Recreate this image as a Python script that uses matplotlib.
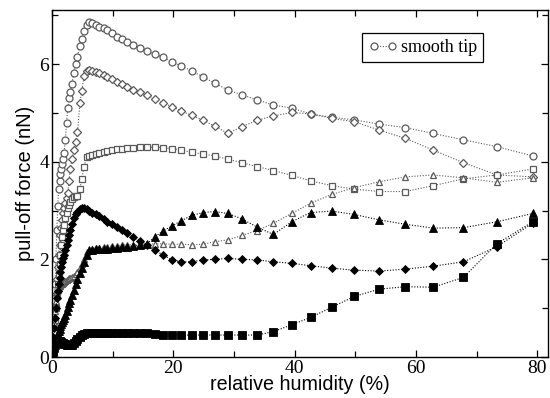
import matplotlib
matplotlib.use("Agg")
import matplotlib.pyplot as plt
from matplotlib.ticker import MultipleLocator

# relative humidity (%) - shared sampling for every curve
rh = [0.0, 0.2, 0.35, 0.5, 0.65, 0.8, 0.95, 1.1, 1.25, 1.4, 1.55, 1.7, 1.85,
      2.0, 2.2, 2.4, 2.6, 2.8, 3.0, 3.3, 3.6, 3.9, 4.2, 4.6, 4.9, 5.3, 5.7,
      6.1, 6.6, 7.2, 7.8, 8.5, 9.1, 9.9, 10.7, 11.5, 12.4, 13.4, 14.5, 15.7,
      16.9, 18.3, 19.7, 21.3, 23.0, 24.9, 26.8, 29.0, 31.3, 33.8, 36.5, 39.5,
      42.6, 46.1, 49.8, 53.9, 58.2, 62.8, 67.8, 73.3, 79.2]

# pull-off force (nN)
smooth_tip = [0.0, 0.6, 1.0, 1.5, 2.0, 2.6, 3.1, 3.45, 3.6, 3.75, 3.86, 3.96, 4.06,
              4.18, 4.45, 4.8, 5.1, 5.3, 5.42, 5.6, 5.82, 6.0, 6.15, 6.38, 6.52, 6.68, 6.8,
              6.86, 6.84, 6.81, 6.77, 6.73, 6.69, 6.63, 6.56, 6.51, 6.46, 6.4, 6.34, 6.27,
              6.21, 6.14, 6.05, 5.96, 5.86, 5.74, 5.61, 5.47, 5.37, 5.27, 5.16, 5.1,
              4.98, 4.91, 4.86, 4.77, 4.7, 4.58, 4.45, 4.31, 4.12]

open_diamond = [0.0, 0.4, 0.7, 1.0, 1.3, 1.6, 1.85, 2.1, 2.3, 2.5, 2.65, 2.8, 2.95,
                3.05, 3.15, 3.25, 3.35, 3.6, 3.85, 4.05, 4.25, 4.4, 4.6, 5.2, 5.45, 5.75, 5.86,
                5.87, 5.86, 5.84, 5.81, 5.77, 5.73, 5.69, 5.64, 5.59, 5.54, 5.48, 5.42, 5.36,
                5.29, 5.21, 5.13, 5.04, 4.95, 4.85, 4.73, 4.58, 4.72, 4.85, 4.94, 5.01,
                4.98, 4.89, 4.82, 4.65, 4.48, 4.24, 3.98, 3.73, 3.69]

open_square = [0.0, 0.3, 0.5, 0.75, 1.0, 1.25, 1.5, 1.7, 1.9, 2.1, 2.3, 2.45, 2.6,
               2.7, 2.85, 2.95, 3.05, 3.12, 3.18, 3.24, 3.28, 3.3, 3.3, 3.45, 3.65, 3.9, 4.1,
               4.12, 4.14, 4.16, 4.18, 4.2, 4.22, 4.24, 4.26, 4.27, 4.28, 4.29, 4.3, 4.3,
               4.3, 4.29, 4.27, 4.24, 4.19, 4.16, 4.12, 4.05, 3.98, 3.9, 3.82, 3.72,
               3.61, 3.51, 3.44, 3.39, 3.39, 3.51, 3.65, 3.73, 3.85]

open_triangle = [0.0, 0.4, 0.7, 0.95, 1.15, 1.3, 1.38, 1.42, 1.45, 1.47, 1.49, 1.5, 1.52,
                 1.53, 1.55, 1.57, 1.59, 1.61, 1.62, 1.64, 1.66, 1.7, 1.75, 1.82, 1.9, 2.0, 2.15,
                 2.2, 2.22, 2.23, 2.24, 2.25, 2.26, 2.27, 2.28, 2.29, 2.3, 2.3, 2.31, 2.31,
                 2.32, 2.32, 2.31, 2.31, 2.3, 2.31, 2.36, 2.4, 2.49, 2.59, 2.74, 2.94,
                 3.15, 3.33, 3.47, 3.59, 3.69, 3.73, 3.67, 3.58, 3.67]

filled_triangle = [0.0, 0.1, 0.18, 0.25, 0.32, 0.4, 0.47, 0.53, 0.58, 0.63, 0.68, 0.72, 0.76,
                   0.8, 0.87, 0.95, 1.02, 1.1, 1.17, 1.27, 1.38, 1.5, 1.6, 1.72, 1.82, 1.95, 2.1,
                   2.2, 2.2, 2.21, 2.21, 2.22, 2.22, 2.23, 2.24, 2.25, 2.26, 2.27, 2.29, 2.32,
                   2.46, 2.58, 2.68, 2.79, 2.9, 2.96, 2.98, 2.94, 2.83, 2.66, 2.51, 2.77,
                   2.96, 2.99, 2.92, 2.81, 2.72, 2.64, 2.65, 2.77, 2.94]

filled_diamond = [0.0, 0.4, 0.6, 0.8, 1.0, 1.2, 1.35, 1.5, 1.62, 1.75, 1.85, 1.95, 2.02,
                  2.08, 2.2, 2.3, 2.4, 2.5, 2.6, 2.72, 2.84, 2.92, 2.98, 3.03, 3.05, 3.05, 3.04,
                  3.0, 2.96, 2.92, 2.88, 2.82, 2.77, 2.72, 2.66, 2.6, 2.54, 2.46, 2.38, 2.3,
                  2.19, 2.09, 1.99, 1.95, 1.95, 1.99, 2.0, 2.02, 2.0, 1.99, 1.95, 1.92,
                  1.87, 1.82, 1.78, 1.76, 1.8, 1.86, 1.95, 2.26, 2.74]

filled_square = [0.0, 0.12, 0.2, 0.26, 0.3, 0.32, 0.33, 0.33, 0.32, 0.31, 0.3, 0.29, 0.28,
                 0.27, 0.26, 0.25, 0.24, 0.24, 0.24, 0.25, 0.28, 0.32, 0.36, 0.41, 0.45, 0.48, 0.5,
                 0.5, 0.5, 0.5, 0.5, 0.5, 0.5, 0.5, 0.5, 0.5, 0.5, 0.5, 0.5, 0.49,
                 0.47, 0.46, 0.45, 0.45, 0.45, 0.45, 0.45, 0.45, 0.45, 0.45, 0.52, 0.66,
                 0.81, 1.02, 1.24, 1.39, 1.44, 1.43, 1.63, 2.32, 2.77]

grey = '#5a5a5a'
dotted = (0, (1, 1.5))

fig = plt.figure(figsize=(5.5, 3.98), dpi=100)
ax = fig.add_axes([0.0945, 0.103, 0.9015, 0.872])

open_series = [(smooth_tip, 'o', 'smooth tip'),
               (open_diamond, 'D', None),
               (open_square, 's', None),
               (open_triangle, '^', None)]
for ys, m, lab in open_series:
    ms = 4.0 if m == 'D' else 5.0
    ax.plot(rh, ys, linestyle=dotted, color=grey, linewidth=0.8,
            marker=m, markersize=ms, markerfacecolor='white',
            markeredgecolor=grey, markeredgewidth=0.9, label=lab)

for ys, m in [(filled_triangle, '^'), (filled_diamond, 'D'), (filled_square, 's')]:
    ms = 4.2 if m == 'D' else 5.2
    ax.plot(rh, ys, linestyle=dotted, color='black', linewidth=0.8,
            marker=m, markersize=ms, markerfacecolor='black',
            markeredgecolor='black', markeredgewidth=0.6)

ax.set_xlim(0, 81.7)
ax.set_ylim(0, 7.11)
ax.xaxis.set_major_locator(MultipleLocator(20))
ax.xaxis.set_minor_locator(MultipleLocator(10))
ax.yaxis.set_major_locator(MultipleLocator(2))
ax.yaxis.set_minor_locator(MultipleLocator(1))
ax.tick_params(which='both', direction='in', top=True, right=True, width=0.9)
ax.tick_params(which='major', length=5, pad=2)
ax.tick_params(which='minor', length=4)
for lbl in ax.get_xticklabels() + ax.get_yticklabels():
    lbl.set_fontfamily('Liberation Serif')
    lbl.set_fontsize(14)
for sp in ax.spines.values():
    sp.set_linewidth(1.0)

ax.set_xlabel('relative humidity (%)', fontsize=14.2, family='Liberation Sans', labelpad=-1)
ax.set_ylabel('pull-off force (nN)', fontsize=14.5, family='Liberation Sans', labelpad=3)

leg = ax.legend(loc='upper right', bbox_to_anchor=(0.87, 0.935), numpoints=2,
                prop={'family': 'Liberation Serif', 'size': 13}, fancybox=False,
                edgecolor='black', framealpha=1, handlelength=1.6, handletextpad=0.2,
                borderpad=0.35, borderaxespad=0)
leg.get_frame().set_linewidth(0.9)

fig.savefig('out.png', dpi=100)
